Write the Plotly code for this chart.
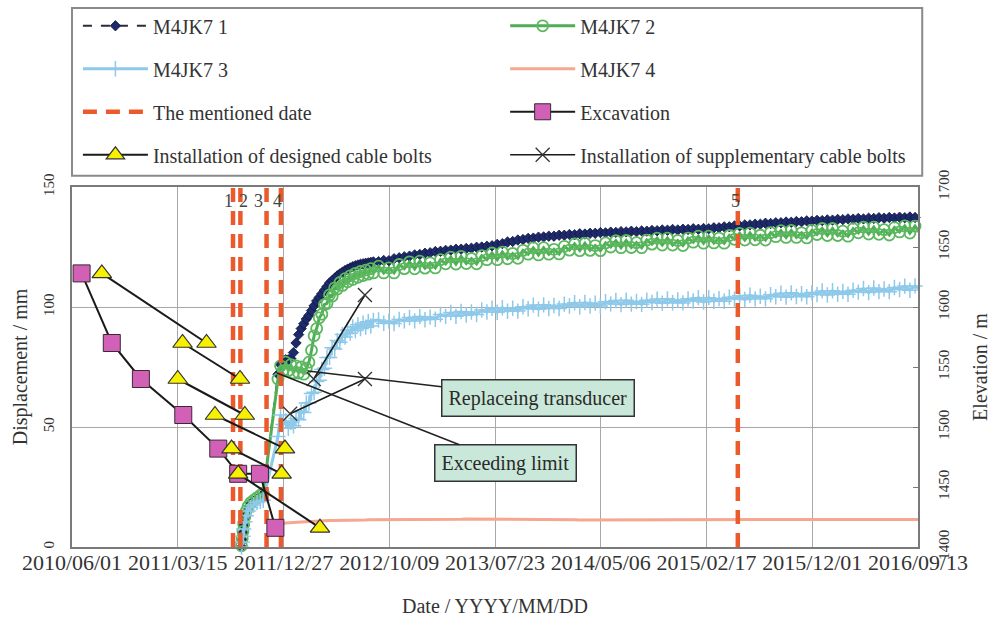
import pandas as pd
import plotly.graph_objects as go

# ---------------- monitoring data (displacement, mm) ----------------
hook_dates = ["2011-09-04", "2011-09-06", "2011-09-08", "2011-09-10", "2011-09-13", "2011-09-17",
              "2011-09-22", "2011-09-29", "2011-10-07", "2011-10-16", "2011-10-25", "2011-11-02"]
weekly_dates = [d.strftime("%Y-%m-%d") for d in pd.date_range("2011-12-12", periods=38, freq="7D")]
biweekly_dates = [d.strftime("%Y-%m-%d") for d in pd.date_range("2012-09-10", periods=106, freq="14D")]

m1_hook = [0, 3, 6, 9, 12, 14.5, 16.5, 18, 19, 20, 21, 22]
m2_hook = [0.5, 3.5, 6.5, 9.5, 12.5, 15, 17, 18.5, 19.5, 20.5, 21.5, 22.5]
m3_hook = [0, 2, 4.5, 7.5, 10.5, 13, 15, 16.5, 17.5, 18.5, 19, 19.5]

m1_weekly = [72, 76, 77.5, 78, 78, 78.5, 81, 85, 88.5, 91, 93, 95, 96.5, 98.5, 100.5, 102.5,
             104, 105.5, 107, 108.5, 110, 111, 112, 113, 113.8, 114.5, 115.2, 115.8, 116.3, 116.8,
             117.2, 117.5, 117.8, 118.0, 118.2, 118.4, 118.6, 118.8]
m2_weekly = [70, 75.5, 73.5, 77, 73.5, 76, 72.5, 75.5, 72.5, 75, 72, 74.5, 77, 82, 88, 91,
             95.5, 97, 101, 101.5, 105, 104.5, 108, 107.5, 110.2, 109, 111.8, 110.5, 113, 111.5,
             114, 112.4, 114.8, 113.1, 115.4, 113.7, 116, 114.2]
m3_weekly = [46, 55, 51, 52.5, 49.5, 52, 50.5, 53.5, 53, 56.5, 56, 60, 60, 64, 64.5, 69,
             69.5, 74, 74.5, 79, 79, 83, 82.5, 86, 85.3, 88.5, 87.5, 90.4, 89.1, 91.7,
             90.2, 92.6, 91, 93.3, 91.6, 93.9, 92.1, 94.4]
m4_weekly = [9.0, 9.5, 9.8, 10.0, 10.1, 10.2, 10.3, 10.3, 10.4, 10.4, 10.5, 10.5, 10.6, 10.6,
             10.7, 10.7, 10.8, 10.8, 10.9, 10.9, 11.0, 11.0, 11.0, 11.1, 11.1, 11.1, 11.2, 11.2,
             11.2, 11.2, 11.3, 11.3, 11.3, 11.3, 11.3, 11.4, 11.4, 11.4]

m1_biweekly = [
    118.9, 119.4, 119.3, 120.1, 120.5, 120.9, 121.2, 121.7, 121.9, 122.4, 122.6, 123.1, 123.2, 123.6, 123.7, 124.1,
    124.1, 124.4, 124.5, 124.9, 125.0, 125.3, 125.5, 126.1, 126.4, 127.1, 127.3, 127.9, 128.1, 128.6, 128.7, 129.1,
    129.2, 129.5, 129.5, 129.9, 129.9, 130.2, 130.1, 130.5, 130.4, 130.7, 130.7, 131.0, 130.9, 131.2, 131.1, 131.4,
    131.3, 131.6, 131.4, 131.7, 131.6, 131.9, 131.8, 132.1, 132.0, 132.3, 132.1, 132.4, 132.3, 132.6, 132.4, 132.7,
    132.6, 133.0, 133.0, 133.4, 133.4, 133.8, 133.8, 134.2, 134.2, 134.5, 134.5, 134.9, 134.8, 135.1, 135.1, 135.4,
    135.3, 135.6, 135.5, 135.9, 135.8, 136.1, 136.0, 136.3, 136.2, 136.5, 136.4, 136.7, 136.6, 136.9, 136.7, 137.0,
    136.9, 137.2, 137.0, 137.3, 137.1, 137.4, 137.2, 137.5, 137.3, 137.5]
m2_biweekly = [
    117.0, 114.2, 116.3, 114.2, 117.7, 116.0, 118.8, 115.9, 119.1, 116.2, 118.4, 116.3, 119.7, 118.0, 120.8, 117.9,
    121.1, 118.1, 120.2, 118.0, 121.4, 119.7, 122.5, 119.7, 122.9, 120.1, 122.3, 120.3, 123.6, 122.0, 124.6, 121.7,
    124.7, 122.0, 124.0, 122.1, 125.3, 123.7, 126.3, 123.5, 126.5, 123.6, 125.6, 123.5, 126.7, 125.0, 127.6, 124.7,
    127.7, 124.8, 126.8, 124.7, 127.9, 126.2, 128.7, 125.8, 128.7, 125.8, 127.7, 125.6, 128.7, 127.0, 129.5, 126.6,
    129.5, 126.7, 128.7, 126.6, 129.8, 128.2, 130.7, 127.9, 130.8, 128.0, 129.9, 127.9, 131.0, 129.3, 131.8, 129.0,
    131.9, 129.0, 130.9, 128.8, 131.9, 130.2, 132.7, 129.8, 132.7, 129.8, 131.6, 129.5, 132.6, 130.9, 133.3, 130.4,
    133.3, 130.3, 132.2, 130.0, 133.1, 131.3, 133.8, 130.8, 133.7, 130.7]
m3_biweekly = [
    94.6, 93.2, 94.1, 93.1, 94.8, 94.2, 95.6, 94.2, 96.0, 94.7, 95.8, 94.9, 96.9, 96.1, 97.7, 96.1,
    98.1, 96.6, 97.9, 96.9, 98.8, 97.9, 99.5, 97.8, 99.7, 98.2, 99.5, 98.3, 100.1, 99.3, 100.8, 99.1,
    100.9, 99.4, 100.6, 99.4, 101.2, 100.4, 101.8, 100.1, 101.9, 100.4, 101.6, 100.4, 102.2, 101.3, 102.7, 101.0,
    102.8, 101.2, 102.3, 101.1, 102.8, 101.9, 103.3, 101.6, 103.4, 101.8, 102.9, 101.7, 103.4, 102.5, 103.9, 102.1,
    103.9, 102.4, 103.5, 102.4, 104.1, 103.3, 104.7, 103.1, 104.9, 103.4, 104.5, 103.4, 105.1, 104.3, 105.7, 104.1,
    105.9, 104.4, 105.5, 104.3, 106.0, 105.2, 106.7, 105.0, 106.8, 105.3, 106.5, 105.3, 107.0, 106.2, 107.7, 106.0,
    107.9, 106.4, 107.5, 106.4, 108.1, 107.3, 108.7, 107.0, 108.8, 107.2]
m4_biweekly = [
    11.4, 11.5, 11.4, 11.5, 11.5, 11.6, 11.5, 11.4, 11.4, 11.3, 11.3, 11.4, 11.4, 11.5, 11.5, 11.6,
    11.6, 11.7, 11.7, 11.6, 11.6, 11.5, 11.5, 11.5, 11.4, 11.4, 11.4, 11.5, 11.5, 11.5, 11.6, 11.6,
    11.6, 11.6, 11.5, 11.5, 11.4, 11.4, 11.4, 11.3, 11.3, 11.4, 11.4, 11.5, 11.5, 11.5, 11.6, 11.6,
    11.5, 11.5, 11.4, 11.4, 11.4, 11.4, 11.3, 11.3, 11.3, 11.4, 11.4, 11.4, 11.4, 11.5, 11.5, 11.5,
    11.4, 11.4, 11.4, 11.3, 11.3, 11.3, 11.3, 11.4, 11.4, 11.4, 11.5, 11.5, 11.5, 11.4, 11.4, 11.4,
    11.3, 11.3, 11.3, 11.4, 11.4, 11.4, 11.4, 11.5, 11.5, 11.5, 11.5, 11.4, 11.4, 11.4, 11.4, 11.3,
    11.3, 11.3, 11.4, 11.4, 11.4, 11.5, 11.5, 11.5, 11.5, 11.5]

# ---------------- events ----------------
mentioned_dates = ["2011-08-12", "2011-09-01", "2011-11-11", "2011-12-20", "2015-05-13"]
mentioned_labels = ["1", "2", "3", "4", "5"]

# excavation progress (elevation, m)
excavation_dates = ["2010-06-27", "2010-09-17", "2010-12-05", "2011-03-30",
                    "2011-07-03", "2011-08-26", "2011-10-24", "2011-12-05"]
excavation_elev = [1628, 1570, 1540, 1510, 1482, 1461, 1461, 1416]

# designed cable bolts: each installation runs from a start to an end
designed_start_dates = ["2010-08-21", "2011-03-28", "2011-03-15", "2011-06-24", "2011-08-08", "2011-08-26"]
designed_end_dates = ["2011-06-01", "2011-08-31", "2011-09-13", "2011-12-31", "2011-12-22", "2012-04-04"]
designed_start_elev = [1628, 1570, 1540, 1510, 1482, 1461]
designed_end_elev = [1570, 1540, 1510, 1482, 1461, 1416]

# supplementary cable bolts
supp_start_dates = ["2012-01-14", "2012-03-18"]
supp_end_dates = ["2012-08-04", "2012-08-04"]
supp_start_elev = [1511, 1540]
supp_end_elev = [1540, 1610]

# callouts
callout_texts = ["Replaceing transducer", "Exceeding limit"]
callout_dates = ["2012-03-02", "2011-12-09"]
callout_values = [73.3, 72.5]

# axis ticks
x_tick_labels = ["2010/06/01", "2011/03/15", "2011/12/27", "2012/10/09", "2013/07/23",
                 "2014/05/06", "2015/02/17", "2015/12/01", "2016/09/13"]
y_ticks = [0, 50, 100, 150]
elev_ticks = [1400, 1450, 1500, 1550, 1600, 1650, 1700]


def segments(x0s, x1s, y0s, y1s):
    xs, ys = [], []
    for a, b, c, d in zip(x0s, x1s, y0s, y1s):
        xs += [a, b, None]
        ys += [c, d, None]
    return xs, ys


FONT = "Liberation Serif, Times New Roman, serif"
TXT = "#333333"

fig = go.Figure()

dates_all = hook_dates + weekly_dates + biweekly_dates

fig.add_trace(go.Scatter(
    x=dates_all, y=m1_hook + m1_weekly + m1_biweekly, name="M4JK7 1",
    mode="lines+markers", line=dict(color="#2b2b3a", width=2, dash="dash"),
    marker=dict(symbol="diamond", size=8, color="#1d2a6c", line=dict(color="#10163a", width=0.8)),
    cliponaxis=False, legend="legend", legendgroup="g1"))
fig.add_trace(go.Scatter(
    x=dates_all, y=m2_hook + m2_weekly + m2_biweekly, name="M4JK7 2",
    mode="lines+markers", line=dict(color="#4fae55", width=3),
    marker=dict(symbol="circle-open", size=11, color="#5cb85f", line=dict(width=1.8)),
    cliponaxis=False, legend="legend2", legendgroup="g2"))
fig.add_trace(go.Scatter(
    x=dates_all, y=m3_hook + m3_weekly + m3_biweekly, name="M4JK7 3",
    mode="lines+markers", line=dict(color="#8ec9ea", width=3),
    marker=dict(symbol="cross-thin", size=11, color="#8ec9ea", line=dict(color="#8ec9ea", width=1.5)),
    cliponaxis=False, legend="legend", legendgroup="g3"))
fig.add_trace(go.Scatter(
    x=weekly_dates + biweekly_dates, y=m4_weekly + m4_biweekly, name="M4JK7 4",
    mode="lines", line=dict(color="#f6a78f", width=3),
    legend="legend2", legendgroup="g4"))

# vertical dashed event lines
md_x, md_y = segments(mentioned_dates, mentioned_dates, [0] * 5, [150] * 5)
fig.add_trace(go.Scatter(
    x=md_x, y=md_y, name="The mentioned date", mode="lines",
    line=dict(color="#ec5a2c", width=4.5, dash="14px,9px"),
    legend="legend", legendgroup="g5"))

fig.add_trace(go.Scatter(
    x=excavation_dates, y=excavation_elev, name="Excavation", yaxis="y2",
    mode="lines+markers", line=dict(color="#1a1a1a", width=2),
    marker=dict(symbol="square", size=17, color="#d160b6", line=dict(color="#3a2a35", width=1)),
    legend="legend2", legendgroup="g6"))

dx, dy = segments(designed_start_dates, designed_end_dates, designed_start_elev, designed_end_elev)
fig.add_trace(go.Scatter(
    x=dx, y=dy, name="Installation of designed cable bolts", yaxis="y2",
    mode="lines+markers", line=dict(color="#1a1a1a", width=2),
    marker=dict(symbol="triangle-up", size=17, color="#f7f000", line=dict(color="#333", width=1.2)),
    legend="legend", legendgroup="g7"))

sx, sy = segments(supp_start_dates, supp_end_dates, supp_start_elev, supp_end_elev)
fig.add_trace(go.Scatter(
    x=sx, y=sy, name="Installation of supplementary cable bolts", yaxis="y2",
    mode="lines+markers", line=dict(color="#1a1a1a", width=1.5),
    marker=dict(symbol="x-thin", size=14, color="#333", line=dict(color="#333", width=1.3)),
    legend="legend2", legendgroup="g8"))

annotations = []
label_shift = [-5, 3, -8, -3, -2]
for d, t, s in zip(mentioned_dates, mentioned_labels, label_shift):
    annotations.append(dict(x=d, y=150, xref="x", yref="y", text=t, showarrow=False,
                            yanchor="top", xshift=s, yshift=-2,
                            font=dict(family=FONT, size=18, color="#444")))

callout_offsets = [(230, 27), (229, 90)]
for t, d, v, (ax, ay) in zip(callout_texts, callout_dates, callout_values, callout_offsets):
    annotations.append(dict(x=d, y=v, xref="x", yref="y", text=t, showarrow=True,
                            arrowhead=0, arrowwidth=1.5, arrowcolor="#222", ax=ax, ay=ay,
                            bgcolor="#c9e8d9", bordercolor="#333", borderwidth=1.5, borderpad=6,
                            font=dict(family=FONT, size=20, color="#2a2a2a")))

legend_common = dict(yanchor="top", xanchor="left", bgcolor="rgba(0,0,0,0)", borderwidth=0,
                     itemwidth=65, traceorder="grouped", tracegroupgap=14,
                     font=dict(family=FONT, size=20, color=TXT))

fig.update_layout(
    width=991, height=624,
    margin=dict(l=72, r=73, t=187, b=77, autoexpand=False),
    paper_bgcolor="white", plot_bgcolor="white",
    font=dict(family=FONT, size=20, color=TXT),
    xaxis=dict(
        type="date", range=["2010-06-01", "2016-09-13"], automargin=False,
        tickvals=[t.replace("/", "-") for t in x_tick_labels], ticktext=x_tick_labels,
        showgrid=True, gridcolor="#a8a8a8", gridwidth=1,
        showline=True, linecolor="#7a7a7a", linewidth=2, mirror=True, ticks="",
        ticklabelstandoff=-5,
        tickfont=dict(family=FONT, size=22, color=TXT),
        title=dict(text="Date / YYYY/MM/DD", standoff=25, font=dict(family=FONT, size=20, color=TXT)),
    ),
    yaxis=dict(
        range=[0, 150], tickvals=y_ticks, tickangle=-90, automargin=False,
        showgrid=True, gridcolor="#a8a8a8", gridwidth=1, zeroline=False,
        showline=True, linecolor="#7a7a7a", linewidth=2, mirror=True, ticks="",
        ticklabelstandoff=10,
        tickfont=dict(family=FONT, size=15, color=TXT),
        title=dict(text="Displacement / mm", standoff=8, font=dict(family=FONT, size=20, color=TXT)),
    ),
    yaxis2=dict(
        overlaying="y", side="right", range=[1400, 1700], tickvals=elev_ticks, tickangle=-90,
        showgrid=False, zeroline=False, showline=False, automargin=False,
        ticks="inside", ticklen=5, tickcolor="#7a7a7a", ticklabelstandoff=15,
        tickfont=dict(family=FONT, size=15, color=TXT),
        title=dict(text="Elevation / m", standoff=21, font=dict(family=FONT, size=20, color=TXT)),
    ),
    legend=dict(x=0.007, y=1.502, **legend_common),
    legend2=dict(x=0.512, y=1.502, **legend_common),
    shapes=[dict(type="rect", xref="paper", yref="paper", x0=0, x1=1.005, y0=1.031, y1=1.497,
                 line=dict(color="#8a8a8a", width=2), fillcolor="rgba(0,0,0,0)", layer="below")],
    annotations=annotations,
)

fig.write_html("out.html")
